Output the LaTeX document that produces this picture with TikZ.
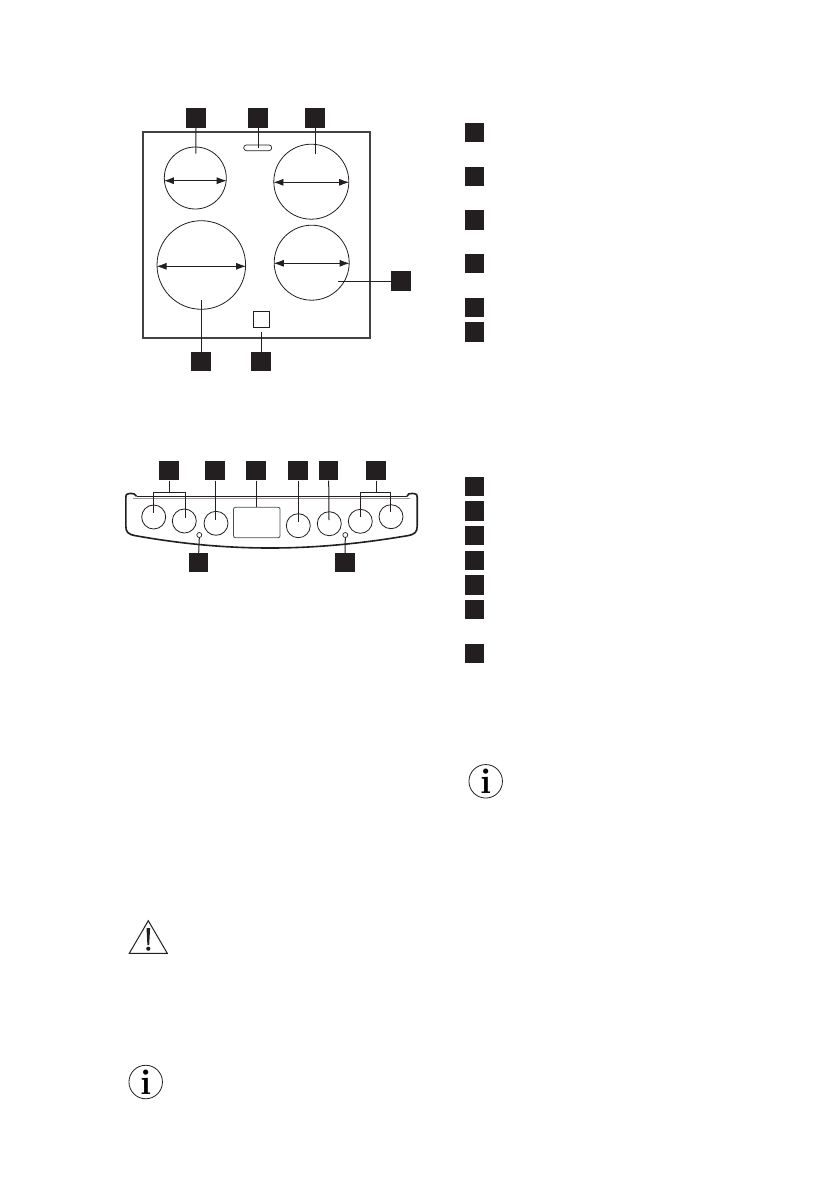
\documentclass[tikz,border=0pt]{standalone}
\usepackage{amssymb}
\usetikzlibrary{arrows,arrows.meta}
\tikzset{
  tag/.style={fill=tagblack,draw=none,minimum size=19.5pt,inner sep=0pt},
  leader/.style={line width=1pt,draw=tagblack},
  zone/.style={circle,draw=tagblack,line width=0.8pt,inner sep=0pt},
  knob/.style={circle,draw=tagblack,line width=0.8pt,minimum size=24pt,inner sep=0pt},
  dim/.style={line width=0.8pt,draw=tagblack,{Latex[length=10pt,width=7pt]}-{Latex[length=10pt,width=7pt]}},
  infosign/.style={circle,draw=tagblack,line width=0.8pt,minimum size=33.5pt,inner sep=0pt,font=\fontsize{36}{36}\selectfont\bfseries}
}
\definecolor{tagblack}{RGB}{35,31,32}
\begin{document}
\begin{tikzpicture}[x=1pt,y=-1pt]
  \useasboundingbox (0,0) rectangle (839,1191);
  % hob
  \node[draw=tagblack!85,line width=2pt,minimum width=227pt,minimum height=205.5pt,inner sep=0pt] (hob) at (256.8,235) {};
  \node[zone,minimum size=62pt] (rl) at (195.3,178) {};
  \node[zone,minimum size=75pt] (rr) at (311.3,181.7) {};
  \node[zone,minimum size=88.6pt] (fl) at (201.3,265) {};
  \node[zone,minimum size=75pt] (fr) at (311.7,262.7) {};
  \node[draw=tagblack,line width=0.7pt,rounded corners=2.8pt,minimum width=28pt,minimum height=5.7pt,inner sep=0pt] (slot) at (257.7,147.8) {};
  \node[draw=tagblack,line width=0.7pt,minimum size=16pt,inner sep=0pt] (ind) at (261.5,319) {};
  \foreach \n/\x/\y in {ta/196/118,tb/258/118,tc/315/118,td/401/281,te/201/361.7,tf/261/361.7} { \node[tag] (\n) at (\x,\y) {}; }
  \coordinate (rlend) at (195.8,153.7);
  \coordinate (rrend) at (313.4,153.7);
  \coordinate (frend) at (338.3,281);
  \coordinate (flend) at (201.3,300);
  \coordinate (indend) at (261.3,331.7);
  \draw[leader] (ta.south) -- (rlend);
  \draw[leader] (tb.south) -- (tb.south |- slot.center);
  \draw[leader] (tc.south) -- (tc.south |- rrend);
  \draw[leader] (td.west) -- (frend);
  \draw[leader] (te.north) -- (te.north |- flend);
  \draw[leader] (tf.north) -- (tf.north |- indend);
  % diameters
  \foreach \z/\dy in {rl/2.7,rr/0.6,fl/1.3,fr/0.6} { \draw[dim] ([yshift=-\dy pt]\z.west) -- ([yshift=-\dy pt]\z.east); }
  % panel
  \draw[line width=1.5pt,draw=tagblack!45] (133,498.6) -- (410,498.6);
  \draw[line width=1.6pt,draw=tagblack] (136.5,496.3) .. controls (135,494) and (134,493.4) .. (131,493.4) -- (129,493.6)
    .. controls (126.5,493.8) and (125.8,494.5) .. (125.8,497) -- (125.8,526)
    .. controls (125.8,532) and (128,534.2) .. (135,535.6)
    .. controls (190,545.5) and (235,548) .. (270,548) .. controls (305,548) and (350,545.5) .. (408,535.6)
    .. controls (415,534.2) and (417.2,532) .. (417.2,526) -- (417.2,497)
    .. controls (417.2,494.5) and (416.5,493.8) .. (414,493.6) -- (412,493.4)
    .. controls (409,493.4) and (408,494) .. (407,496.3);
  \draw[line width=1.4pt,draw=tagblack] (136.5,496.3) -- (407,496.3);
  \node[draw=tagblack!80,line width=0.8pt,rounded corners=2pt,minimum width=46.5pt,minimum height=30.5pt,inner sep=0pt] (disp) at (256.8,522.5) {};
  \foreach \n/\x/\y in {ka/153.7/517,kb/184.3/521,kc/216/523.3,kd/298.3/525.7,ke/329.3/523.7,kf/360.3/521.3,kg/391/516.7} { \node[knob] (\n) at (\x,\y) {}; }
  \foreach \n/\x in {pa/169,pb/215,pc/256,pd/298,pe/328.7,pf/376} { \node[tag] (\n) at (\x,470.7) {}; }
  \node[tag] (pg) at (198.7,562.7) {};
  \node[tag] (ph) at (345,562.7) {};
  \node[circle,draw=tagblack,line width=0.7pt,minimum size=5pt,inner sep=0pt] (ledl) at (199.3,535) {};
  \node[circle,draw=tagblack,line width=0.7pt,minimum size=5pt,inner sep=0pt] (ledr) at (345.3,535) {};
  \draw[leader] (pa.south) -- (169,492.3);
  \draw[leader] (153.3,513) -- (153.3,492.3) -- (185.7,492.3) -- (185.7,518);
  \draw[leader] (pf.south) -- (376,492.3);
  \draw[leader] (360,516.7) -- (360,492.3) -- (390.7,492.3) -- (390.7,511.7);
  \draw[leader] (pb.south) -- (215,520);
  \draw[leader] (pc.south) -- (disp.north -| pc.south);
  \draw[leader] (pd.south) -- (298,521.7);
  \draw[leader] (pe.south) -- (329,520);
  \draw[leader] (pg.north) -- (ledl.south);
  \draw[leader] (ph.north) -- (ledr.south);
  % squares of the key lists
  \foreach \y [count=\i] in {132.3,176.3,220,263.3,307.3,332} { \node[tag] (ka\i) at (474.5,\y) {}; }
  \foreach \y [count=\i] in {486.3,511,535.3,560.3,585,609.3,653.3} { \node[tag] (kb\i) at (474.5,\y) {}; }
  % warning and info signs
  \coordinate (wa) at (148.3,920.7);
  \coordinate (wb) at (129.3,953.3);
  \coordinate (wc) at (167.3,953.3);
  \draw[line width=1pt,draw=tagblack,line join=miter] (wa) -- (wb) -- (wc) -- cycle;
  \fill[tagblack] (146.5,928) -- (150.1,928) -- (149.2,945) -- (147.4,945) -- cycle;
  \fill[tagblack] (148.3,948.7) circle (2.1);
  \node[infosign] (infoa) at (145.7,1082) {i};
  \node[infosign] (infob) at (485.7,781.3) {i};
\end{tikzpicture}
\end{document}
